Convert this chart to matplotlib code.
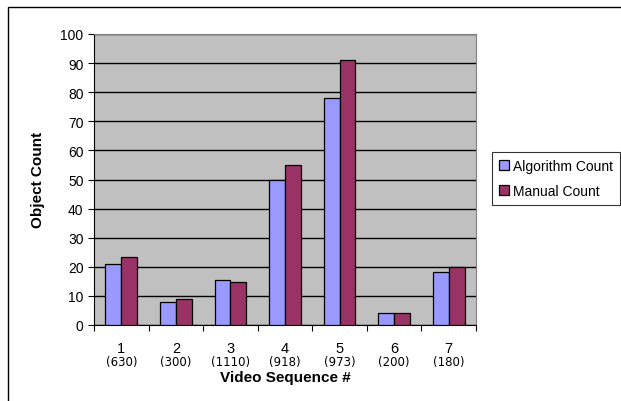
import matplotlib.pyplot as plt
import matplotlib.patches as patches
import numpy as np

sequences = ['1', '2', '3', '4', '5', '6', '7']
frames = ['(630)', '(300)', '(1110)', '(918)', '(973)', '(200)', '(180)']
algorithm_count = [21, 8, 15.5, 50, 78, 4, 18.3]
manual_count = [23.5, 9, 14.7, 55, 91.2, 4, 20]

plt.rcParams['font.family'] = ['Liberation Sans', 'DejaVu Sans']

fig = plt.figure(figsize=(6.21, 4.02), dpi=100)
fig.patch.set_facecolor('white')

# outer chart frame (runs off the right and bottom edges)
fig.patches.append(patches.Rectangle((8/621, -0.1), 1.2, 1 - 8/402 + 0.1,
                                     transform=fig.transFigure, fill=False,
                                     edgecolor='black', lw=1.0))

ax = fig.add_axes([94/621, 1 - 326/402, 382/621, 291/402])
ax.set_facecolor('#C0C0C0')

x = np.arange(len(sequences))
w = 0.29
ax.bar(x - w/2, algorithm_count, w, color='#9999FF', edgecolor='black', lw=0.9,
       label='Algorithm Count', zorder=3)
ax.bar(x + w/2, manual_count, w, color='#993366', edgecolor='black', lw=0.9,
       label='Manual Count', zorder=3)

ax.set_xlim(-0.5, len(sequences) - 0.5)
ax.set_ylim(0, 100)
ax.set_yticks(np.arange(0, 101, 10))
ax.tick_params(axis='y', labelsize=10, length=4, direction='out', width=0.8)
ax.yaxis.grid(True, color='black', lw=1.0, zorder=1)
ax.set_axisbelow(True)

# ticks at category boundaries, labels drawn as text
ax.set_xticks(np.arange(-0.5, len(sequences), 1.0))
ax.set_xticklabels([])
ax.tick_params(axis='x', length=4, direction='out', width=0.8)
for i in range(len(sequences)):
    ax.text(i, -7.8, sequences[i], ha='center', va='center', fontsize=10.5)
    ax.text(i, -12.4, frames[i], ha='center', va='center', fontsize=8.5,
            family='DejaVu Sans')

for side in ['top', 'right']:
    ax.spines[side].set_color('#808080')
ax.spines['left'].set_color('black')
ax.spines['bottom'].set_color('black')

fig.text(285/621, 1 - 378/402, 'Video Sequence #', ha='center', va='center',
         fontsize=11, fontweight='bold')
fig.text(38/621, 1 - 180/402, 'Object Count', ha='center', va='center',
         fontsize=11, fontweight='bold', rotation=90)

leg = fig.legend(loc='upper left', bbox_to_anchor=(492/621, 1 - 153/402),
                 frameon=True, fancybox=False, edgecolor='black', fontsize=10,
                 handlelength=0.7, handleheight=0.7, handletextpad=0.3,
                 borderpad=0.5, labelspacing=0.8, borderaxespad=0)
leg.get_frame().set_linewidth(0.8)

fig.savefig('out.png', dpi=100)
